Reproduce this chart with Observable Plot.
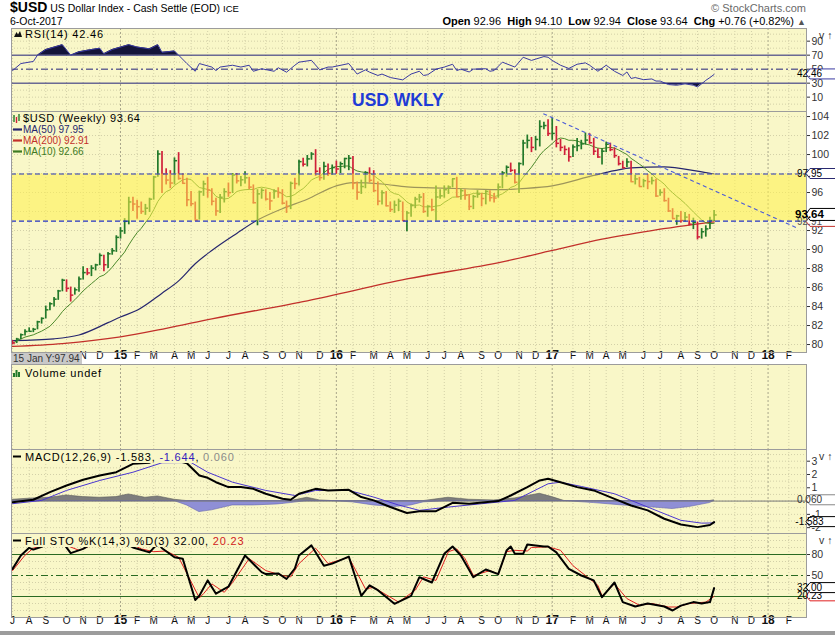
<!DOCTYPE html>
<html>
<head>
<meta charset="utf-8">
<script src="https://cdn.jsdelivr.net/npm/d3@7"></script>
<script src="https://cdn.jsdelivr.net/npm/@observablehq/plot@0.6"></script>
<style>
html,body{margin:0;padding:0;background:#fff;}
#root{position:relative;width:835px;height:635px;overflow:hidden;background:#fff;}
#root svg{position:absolute;left:0;}
</style>
</head>
<body>
<div id="root"></div>
<script>
// ---------------- DATA ----------------
// Weekly bars, first bar = week of Mon 7 Jul 2014, last = week of Mon 2 Oct 2017
const priorClose = 80.28;
const closes = [
80.16,80.57,81.03,81.37,81.39,81.60,82.39,82.75,83.65,84.29,
84.77,85.64,86.77,85.91,85.20,85.76,86.90,87.57,87.54,88.04,
88.38,89.38,88.40,89.55,89.87,91.28,91.96,92.97,95.01,94.79,
94.51,94.01,94.35,95.30,97.64,100.06,97.94,97.31,97.00,99.35,
97.48,96.97,95.24,94.82,93.11,96.07,96.91,96.27,95.08,94.06,
95.50,96.09,95.99,97.85,97.23,97.34,97.55,96.57,94.93,95.86,
96.23,95.31,95.12,96.15,95.99,94.88,94.54,96.97,96.94,99.25,
98.98,99.54,100.05,98.24,97.57,98.76,98.00,98.63,98.48,99.03,
99.58,99.61,96.99,96.03,96.63,98.10,97.29,96.20,95.09,95.98,
94.60,94.21,94.68,95.09,93.05,93.85,94.63,95.31,95.52,94.01,
94.55,94.19,95.53,95.65,96.30,96.58,97.45,95.56,96.19,95.71,
94.53,95.58,95.83,95.37,96.11,95.46,95.42,96.58,98.06,98.66,
98.34,97.08,99.05,101.21,101.49,100.75,101.59,102.95,103.05,102.21,
102.22,101.18,100.75,100.53,99.76,100.80,100.94,101.12,101.52,101.24,
100.35,99.74,100.35,101.08,100.52,99.89,99.04,98.60,99.22,97.14,
97.43,96.63,97.24,97.15,97.26,95.63,96.01,95.15,94.06,93.26,
93.54,93.06,93.41,92.67,92.84,91.33,91.87,92.17,93.07,93.64];
const highs = [
80.40,80.65,81.10,81.55,81.75,81.70,82.45,82.80,84.05,84.40,
84.95,85.70,86.87,86.80,86.05,85.95,87.10,88.20,88.00,88.30,
88.45,89.55,89.40,89.70,90.10,91.45,92.30,93.25,95.50,95.50,
95.20,95.00,94.75,95.40,97.70,100.39,100.33,98.50,98.30,99.65,
100.20,97.95,97.50,96.10,95.00,96.15,97.20,97.60,96.40,95.40,
95.80,96.40,97.00,98.00,98.00,97.70,98.20,97.60,96.80,96.30,
96.40,96.30,96.00,96.30,96.50,96.30,95.10,97.10,97.50,99.40,
99.60,99.90,100.20,100.51,98.60,99.20,99.00,98.90,99.30,99.20,
99.60,99.90,99.80,97.10,97.30,98.20,98.60,98.30,97.10,96.20,
96.10,95.00,95.10,95.30,95.00,94.00,94.80,95.50,95.80,95.90,
94.60,95.30,96.70,96.30,96.70,96.70,97.40,97.60,96.40,96.30,
95.80,95.70,96.20,95.90,96.20,96.20,95.90,96.90,98.20,98.80,
99.10,98.40,99.10,101.50,102.05,101.80,101.90,103.56,103.40,103.65,
103.82,102.95,101.60,100.90,100.70,101.00,101.70,101.50,102.26,102.20,
101.70,100.60,100.60,101.30,101.20,100.70,99.80,99.30,99.55,99.30,
97.80,97.60,97.40,97.90,97.60,97.40,96.30,96.40,95.40,94.30,
93.60,94.00,93.90,93.70,93.30,92.90,92.20,92.50,93.40,94.10];
const lows = [
79.95,80.10,80.50,80.90,81.30,81.25,81.55,82.15,82.70,83.55,
83.95,84.65,85.55,85.50,84.47,85.20,85.50,86.80,87.25,87.15,
87.75,88.30,87.65,88.00,89.40,89.70,91.10,91.60,92.60,94.00,
93.20,93.70,93.60,93.90,95.20,97.60,95.90,96.80,96.40,96.80,
97.30,96.90,94.50,94.50,93.10,93.10,95.60,95.40,94.60,93.50,
93.80,94.90,95.50,95.90,96.90,96.60,96.90,96.30,94.80,92.50,
95.30,95.10,94.10,95.30,95.40,94.70,93.80,94.20,96.30,96.70,
98.70,98.70,99.40,97.70,97.20,97.30,97.70,97.80,97.90,98.00,
98.50,98.30,96.30,95.20,95.80,96.40,97.00,96.00,94.60,94.70,
94.50,93.90,93.80,94.00,92.99,91.88,93.40,94.30,94.90,93.80,
93.40,94.00,93.00,95.30,95.40,95.80,96.50,95.50,95.20,95.20,
94.10,94.20,95.40,94.50,94.70,95.00,94.90,95.40,96.40,97.60,
98.10,96.90,95.90,98.80,100.60,100.20,100.40,100.80,102.60,101.90,
101.50,100.70,100.30,99.90,99.20,99.70,100.30,100.50,101.00,101.10,
99.90,99.60,98.90,100.20,100.30,99.60,98.80,98.50,98.60,97.10,
96.80,96.60,96.50,96.30,96.80,95.50,95.60,95.00,93.90,93.20,
92.55,92.80,92.90,92.50,92.10,91.01,91.10,91.30,92.10,92.94];

// Moving averages (bar number, value)
const ma50Bar = [1,11,17,24,27,31,37,41,45,49,55,60,66,72,79,83,90,96,102,110,119,123,131,141,146,150,158,166,170];
const ma50Val = [80.4,80.6,81.0,82.3,82.9,83.6,85.4,86.7,88.5,89.9,91.7,93.1,94.3,95.3,96.7,97.05,96.9,96.6,96.5,96.4,96.3,96.4,96.7,97.8,98.3,98.6,98.7,98.25,97.95];
const ma200Bar = [1,13,27,38,49,72,96,119,131,143,155,170];
const ma200Val = [79.8,80.1,80.8,81.7,82.7,84.6,86.9,88.7,89.9,91.1,92.0,92.91];

// Support / resistance band and trendline
const bandLow = 93.0, bandHigh = 97.95;
const trendStart = {date: "2016-12-18", value: 104.3};
const trendEnd = {date: "2018-02-20", value: 92.24};

// RSI(14)
const rsiBar = [1,3,6,7,9,13,15,17,19,22,23,25,29,31,34,36,37,40,41,43,45,46,49,50,51,54,56,58,59,61,64,65,67,69,70,73,75,77,78,82,84,86,87,89,90,92,95,97,99,100,101,103,105,107,108,109,111,112,115,116,117,119,122,124,126,129,130,131,133,135,137,139,140,142,144,146,148,149,150,151,153,155,156,157,159,161,163,165,166,167,168,169,170];
const rsiVal = [48,58,61,70,78,85,70,74.7,77,80,72,78,85,81.6,79,85,74,76,70,58,47,58,53,48,53,55.6,53,55.6,47,50.6,47,52,45.7,55.6,60,62.6,49,53,53,58,43,49,45.7,41,43,38,34.7,43,47,41,42,50,53,57,48,50,46,50,50.6,47,48,60,53,67,62.5,68,67,62.5,55.6,51,57,59,55.6,47,55.6,47,41,46,36.7,38,35,36,33,33,28,27,29,27,24.6,29,34,38,42.46];

// MACD(12,26,9)
const macdBar = [1,6,10,14,18,22,26,30,34,36,38,43,46,48,50,53,56,59,62,66,68,70,74,77,82,85,88,92,96,99,103,107,111,118,121,125,128,130,133,137,141,146,150,154,158,162,166,169,170];
const macdVal = [-0.08,0.1,0.67,1.17,1.6,1.92,2.17,2.8,2.88,3.3,3.25,2.85,1.92,1.75,1.42,1.05,1.05,0.92,0.55,0.17,0.1,0.55,0.92,0.8,0.85,0.3,0.05,-0.45,-0.9,-0.76,-0.76,-0.13,-0.2,0,0.42,1.05,1.55,1.68,1.42,1.05,0.8,0.17,-0.33,-0.7,-1.33,-1.76,-1.96,-1.8,-1.583];
const sigBar = [1,8,14,22,30,37,44,48,54,62,69,74,82,88,94,99,106,114,122,130,133,138,146,154,162,167,170];
const sigVal = [-0.2,0.05,0.8,1.55,2.17,2.88,2.9,2.17,1.42,0.8,0.42,0.8,0.8,0.3,-0.3,-0.7,-0.45,-0.2,0.05,1.3,1.42,1.1,0.55,-0.45,-1.45,-1.66,-1.644];
const histBar = [1,6,10,14,18,22,26,29,33,36,40,43,46,49,54,59,65,68,72,75,78,83,88,93,97,100,106,111,117,122,128,131,134,141,148,154,160,164,169,170];
const histVal = [0.1,0.2,0.25,0.42,0.3,0.25,0.3,0.5,0.25,0.35,0.1,-0.33,-0.83,-0.7,-0.33,-0.33,-0.25,-0.15,0.25,0.05,0,-0.1,-0.33,-0.45,-0.33,-0.1,0.25,0.1,0.05,0.2,0.55,0.3,0,-0.15,-0.33,-0.45,-0.6,-0.45,-0.15,0.06];

// Full STO %K(14,3) %D(3)
const kBar = [1,3,5,6,8,10,13,15,18,20,24,28,30,34,36,37,40,42,45,46,48,50,53,57,61,62,65,67,69,70,73,76,78,82,85,87,89,93,97,99,100,102,105,107,109,112,114,115,118,120,121,122,124,125,129,130,132,135,138,141,143,146,148,151,154,158,160,162,165,167,169,170];
const kVal = [59.5,78.6,89.5,87,91,97,98,82,88,95,96,97,90,83,96,89,76,74,15,21,43,24,34,78.6,54.8,52,53,45,60,78.6,93,64,67,77,21,36,29,9.5,21,47.6,45,40,81,91.4,78.6,47.6,55,58.6,52,85.7,91.4,81,81,94.3,91.4,91.4,83,59.5,50,43,19,40,12,5.7,10,5.7,0,7,12,10,12,32];
const dBar = [1,4,6,10,14,17,20,26,30,32,35,38,41,46,47,49,52,54,58,62,66,68,70,74,77,82,86,88,94,98,100,103,106,108,110,112,116,118,120,122,125,126,130,133,136,139,142,143,146,149,152,155,159,161,164,168,170];
const dVal = [57,79,89,95,93,86,93,96,94,88,84,85,76,18,24,38,26,40,74,57,50,48,67,89,67,76,31,33,12,29,48,43,84,88,74,50,57,52,84,86,85,90,91,86,64,50,36,21,38,17,7.6,10,5,5,10,12,20.23];

// Axis tick labels (labels hidden under the value tags in the reference are left out)
const monthLetters = ["J","F","M","A","M","J","J","A","S","O","N","D"];
const yearLabels = ["15","16","17","18"];
const priceTicks = [80,82,84,86,88,90,92,96,100,102,104];
const priceGrid = [80,82,84,86,88,90,92,94,96,98,100,102,104];
const rsiTicks = [10,30,50,70,90];
const macdTicks = [3,2,1,-1,-2];
const stoTicks = [50,80];

// ---------------- BUILD ----------------
const DAY = 864e5;
const firstBarMonday = Date.UTC(2014, 6, 7);
const barDate = n => new Date(firstBarMonday + (n - 1) * 7 * DAY);
const bars = closes.map((c, i) => ({date: barDate(i + 1), close: c, high: highs[i], low: lows[i],
  up: c >= (i ? closes[i - 1] : priorClose)}));
const series = (b, v) => b.map((n, i) => ({date: barDate(n), v: v[i]}));
const ma50 = series(ma50Bar, ma50Val), ma200 = series(ma200Bar, ma200Val);
const rsi = series(rsiBar, rsiVal), macd = series(macdBar, macdVal), sig = series(sigBar, sigVal);
const hist = series(histBar, histVal), stoK = series(kBar, kVal), stoD = series(dBar, dVal);

const FONT = "'Liberation Sans', Arial, Helvetica, sans-serif";
const BG = "#f9f7c8", GRID = "#d3d0a8", YGRID = "#a9a68a", BORDER = "#9c9c9c";
const UPC = "#23792a", DNC = "#d0203a";
const X0 = new Date(Date.UTC(2015, 0, 5) - 183.8 * DAY);
const X1 = new Date(Date.UTC(2015, 0, 5) + 1156.8 * DAY);
const monthTicks = d3.utcMonths(new Date(Date.UTC(2014, 6, 1)), new Date(Date.UTC(2018, 2, 1))).map(d => d3.utcMonday.ceil(d));
const nonJan = monthTicks.filter(d => d.getUTCMonth() !== 0);
const jan = monthTicks.filter(d => d.getUTCMonth() === 0);
const cursorEnd = new Date(Date.UTC(2014, 10, 1)); // months covered by the grey cursor box

const root = document.getElementById("root");

function panel({top, height, marginBottom = 0, yDomain, marks}) {
  const p = Plot.plot({
    width: 835, height, marginLeft: 11, marginRight: 29, marginTop: 0, marginBottom,
    style: {fontFamily: FONT, fontSize: "10.5px", background: "transparent", color: "#222", maxWidth: "none"},
    x: {type: "utc", domain: [X0, X1], axis: null},
    y: {domain: yDomain, axis: null},
    marks
  });
  p.style.position = "absolute"; p.style.top = top + "px"; p.style.left = "0px";
  root.appendChild(p);
  return p;
}
const vgrid = () => [
  Plot.ruleX(nonJan, {stroke: GRID, strokeDasharray: "1,2"}),
  Plot.ruleX(jan, {stroke: YGRID, strokeDasharray: "2,2"})
];
const hgrid = (vals) => Plot.ruleY(vals, {stroke: GRID, strokeDasharray: "1,2"});
const yAxis = (ticks) => Plot.axisY({ticks, anchor: "right", tickSize: 3, tickPadding: 2, fontSize: 10.5, color: "#333", tickFormat: d => String(d)});
const xLabels = (dy, from) => [
  Plot.text(nonJan.filter(d => d >= from), {x: d => d, text: d => monthLetters[d.getUTCMonth()], frameAnchor: "bottom", dy, fontSize: 10, fill: "#111"}),
  Plot.text(jan, {x: d => d, text: d => yearLabels[d.getUTCFullYear() - 2015], frameAnchor: "bottom", dy, fontSize: 12, fontWeight: "bold", fill: "#111"})
];
function tag(p, v, label, {stroke = "#000", color = "#000", bold = false} = {}) {
  const y = p.scale("y").apply(v);
  const h = bold ? 12 : 10, x = 806;
  const g = d3.select(p).append("g");
  g.append("path").attr("d", `M${x},${y}L${x + 4},${y - h / 2}H${x + 45}V${y + h / 2}H${x + 4}Z`)
    .attr("fill", "#fff").attr("stroke", stroke).attr("stroke-width", 1);
  g.append("text").attr("x", x + 3.5).attr("y", y + (bold ? 4 : 3.5)).attr("font-family", FONT)
    .attr("font-size", bold ? 11.5 : 10).attr("font-weight", bold ? "bold" : null)
    .attr("fill", color).text(label);
}

// RSI panel
const pRsi = panel({top: 28, height: 83, yDomain: [-10.5, 108.1], marks: [
  Plot.frame({fill: BG}),
  ...vgrid(), hgrid([0, 10, 20, 40, 60, 80, 90, 100]),
  Plot.areaY(rsi, {x: "date", y1: 70, y2: d => Math.max(d.v, 70), fill: "#14143a"}),
  Plot.areaY(rsi, {x: "date", y1: 30, y2: d => Math.min(d.v, 30), fill: "#14143a"}),
  Plot.ruleY([70, 30], {stroke: "#22227a", strokeWidth: 1}),
  Plot.ruleY([50], {stroke: "#22227a", strokeDasharray: "7,3,2,3"}),
  Plot.line(rsi, {x: "date", y: "v", stroke: "#3a3aa2", strokeWidth: 1}),
  yAxis(rsiTicks),
  Plot.frame({stroke: BORDER})
]});
tag(pRsi, 42.46, "42.46", {stroke: "#3a3aa2"});

// Price panel
const closeTick = {draw(ctx) { ctx.moveTo(-0.6, 0); ctx.lineTo(2.6, 0); }};
const pMain = panel({top: 111, height: 253, marginBottom: 12, yDomain: [79.16, 104.53], marks: [
  Plot.frame({fill: BG}),
  ...vgrid(), hgrid(priceGrid),
  Plot.line(ma200, {x: "date", y: "v", stroke: "#c2302a", strokeWidth: 1.3, curve: "monotone-x"}),
  Plot.line(ma50, {x: "date", y: "v", stroke: "#26266e", strokeWidth: 1.2, curve: "monotone-x"}),
  Plot.lineY(bars, Plot.windowY({k: 10, anchor: "end"}, {x: "date", y: "close", stroke: "#4d8a2c", strokeWidth: 1})),
  Plot.ruleX(bars, {x: "date", y1: "low", y2: "high", stroke: d => d.up ? UPC : DNC, strokeWidth: 1.7}),
  Plot.dot(bars, {x: "date", y: "close", r: 2, symbol: closeTick, fill: "none", stroke: d => d.up ? UPC : DNC, strokeWidth: 1.5}),
  Plot.rect([{x1: X0, x2: X1, y1: bandLow, y2: bandHigh}], {x1: "x1", x2: "x2", y1: "y1", y2: "y2", fill: "#fff04a", fillOpacity: 0.55}),
  Plot.ruleY([bandHigh, bandLow], {stroke: "#2333c4", strokeWidth: 1.2, strokeDasharray: "5,3"}),
  Plot.link([{a: new Date(trendStart.date), b: trendStart.value, c: new Date(trendEnd.date), d: trendEnd.value}],
    {x1: "a", y1: "b", x2: "c", y2: "d", stroke: "#4a5ad8", strokeWidth: 1.1, strokeDasharray: "4,3"}),
  yAxis(priceTicks),
  ...xLabels(6, cursorEnd),
  Plot.frame({stroke: BORDER})
]});
tag(pMain, 97.95, "97.95", {stroke: "#2a2a70"});
tag(pMain, 92.91, "92.91", {stroke: "#c2302a", color: "#555"});
tag(pMain, 93.64, "93.64", {stroke: "#000", bold: true});

// Volume panel (empty)
panel({top: 364, height: 85, yDomain: [0, 1], marks: [
  Plot.frame({fill: BG}), ...vgrid(), Plot.frame({stroke: BORDER})
]});

// MACD panel
const pMacd = panel({top: 449, height: 84, yDomain: [-2.44, 3.88], marks: [
  Plot.frame({fill: BG}),
  ...vgrid(), hgrid(d3.range(-2, 4, 0.5)),
  Plot.areaY(hist, {x: "date", y1: 0, y2: d => Math.max(d.v, 0), fill: "#7d7d7d", stroke: "#5a5a5a", strokeWidth: 0.6}),
  Plot.areaY(hist, {x: "date", y1: 0, y2: d => Math.min(d.v, 0), fill: "#8f8fd6", stroke: "#6565b0", strokeWidth: 0.6}),
  Plot.ruleY([0], {stroke: "#777"}),
  Plot.line(sig, {x: "date", y: "v", stroke: "#4a36d0", strokeWidth: 1}),
  Plot.line(macd, {x: "date", y: "v", stroke: "#000", strokeWidth: 2}),
  yAxis(macdTicks),
  Plot.frame({stroke: BORDER})
]});
tag(pMacd, 0.060, "0.060", {stroke: "#888", color: "#333"});
tag(pMacd, -1.583, "-1.583", {stroke: "#000"});

// STO panel
const pSto = panel({top: 533, height: 97, marginBottom: 13, yDomain: [-10, 110], marks: [
  Plot.frame({fill: BG}),
  ...vgrid(), hgrid([0, 10, 30, 40, 60, 70, 90, 100]),
  Plot.ruleY([80, 20], {stroke: "#2a6a22", strokeWidth: 1}),
  Plot.ruleY([50], {stroke: "#2a6a22", strokeDasharray: "7,3,2,3"}),
  Plot.line(stoD, {x: "date", y: "v", stroke: "#e02020", strokeWidth: 1}),
  Plot.line(stoK, {x: "date", y: "v", stroke: "#000", strokeWidth: 2}),
  yAxis(stoTicks),
  ...xLabels(6.5, X0),
  Plot.frame({stroke: BORDER})
]});
tag(pSto, 20.23, "20.23", {stroke: "#e02020"});
tag(pSto, 32.00, "32.00", {stroke: "#000"});

// ---------------- TEXT OVERLAY ----------------
const ov = d3.select(root).append("svg").attr("width", 835).attr("height", 635)
  .style("position", "absolute").style("top", "0px").style("left", "0px").attr("font-family", FONT);
function T(x, y, parts, {size = 11, anchor = "start", ls = 0} = {}) {
  const t = ov.append("text").attr("x", x).attr("y", y).attr("font-size", size)
    .attr("text-anchor", anchor).style("white-space", "pre");
  if (ls) t.attr("letter-spacing", ls);
  for (const p of parts) {
    const s = t.append("tspan").text(p.t).attr("fill", p.c || "#000");
    if (p.b) s.attr("font-weight", "bold");
    if (p.s) s.attr("font-size", p.s);
  }
  return t;
}
// header
T(10, 12, [{t: "$USD", b: 1, s: 14}, {t: " US Dollar Index - Cash Settle (EOD) ", s: 10.5}, {t: "ICE", s: 9.5}]);
T(10, 25, [{t: "6-Oct-2017"}], {size: 10.5});
T(806, 12, [{t: "© StockCharts.com", c: "#6a6a6a"}], {size: 11, anchor: "end"});
T(806, 25, [{t: "Open", b: 1}, {t: " 92.96  "}, {t: "High", b: 1}, {t: " 94.10  "}, {t: "Low", b: 1}, {t: " 92.94  "},
  {t: "Close", b: 1}, {t: " 93.64  "}, {t: "Chg", b: 1}, {t: " +0.76 (+0.82%) "}, {t: "▲", c: "#555", s: 9}], {size: 11, anchor: "end"});

// RSI legend
ov.append("path").attr("d", "M14,37L16.5,32L18,34.5L20,31L22,37Z").attr("fill", "#111");
T(25, 38, [{t: "RSI(14) 42.46"}], {size: 11, ls: 0.8});
// USD WKLY
T(352, 105.5, [{t: "USD WKLY", b: 1, c: "#1f3bd6"}], {size: 17.5});

// price legend
[[14, 115, 122, UPC], [16.5, 117, 123, DNC], [19, 114, 121, UPC]].forEach(([x, a, b, c]) =>
  ov.append("line").attr("x1", x).attr("x2", x).attr("y1", a).attr("y2", b).attr("stroke", c).attr("stroke-width", 1.4));
T(23, 122, [{t: "$USD (Weekly) 93.64"}], {size: 11, ls: 0.6});
[[133, "MA(50) 97.95", "#26266e"], [144, "MA(200) 92.91", "#c2302a"], [155, "MA(10) 92.66", "#3d7a22"]].forEach(([y, t, c]) => {
  ov.append("line").attr("x1", 13).attr("x2", 22).attr("y1", y - 3.5).attr("y2", y - 3.5).attr("stroke", c).attr("stroke-width", 2.2);
  T(23, y, [{t, c}], {size: 10});
});

// date strip cursor box
ov.append("rect").attr("x", 11).attr("y", 353).attr("width", 71).attr("height", 11).attr("fill", "#c8c8c8");
T(13, 362, [{t: "15 Jan Y:97.94", c: "#333"}], {size: 10});

// volume legend
[[14, 373], [16.5, 370], [19, 372]].forEach(([x, a]) =>
  ov.append("rect").attr("x", x - 1).attr("y", a).attr("width", 2).attr("height", 377 - a).attr("fill", UPC));
T(25, 377, [{t: "Volume undef"}], {size: 11, ls: 0.8});

// MACD legend
ov.append("rect").attr("x", 12).attr("y", 451).attr("width", 226).attr("height", 12).attr("fill", BG);
ov.append("line").attr("x1", 13).attr("x2", 21).attr("y1", 456.5).attr("y2", 456.5).attr("stroke", "#000").attr("stroke-width", 2);
T(25, 460.5, [{t: "MACD(12,26,9) -1.583, "}, {t: "-1.644", c: "#3322bb"}, {t: ", "}, {t: "0.060", c: "#8a8a8a"}], {size: 11, ls: 0.8});

// STO legend
ov.append("rect").attr("x", 12).attr("y", 535).attr("width", 234).attr("height", 12).attr("fill", BG);
ov.append("line").attr("x1", 13).attr("x2", 21).attr("y1", 540.5).attr("y2", 540.5).attr("stroke", "#000").attr("stroke-width", 2);
T(25, 544.5, [{t: "Full STO %K(14,3) %D(3) 32.00, "}, {t: "20.23", c: "#d02020"}], {size: 11, ls: 0.8});

// bottom bar
ov.append("rect").attr("x", 0).attr("y", 631).attr("width", 835).attr("height", 4).attr("fill", "#9c9c9c");
</script>
</body>
</html>
